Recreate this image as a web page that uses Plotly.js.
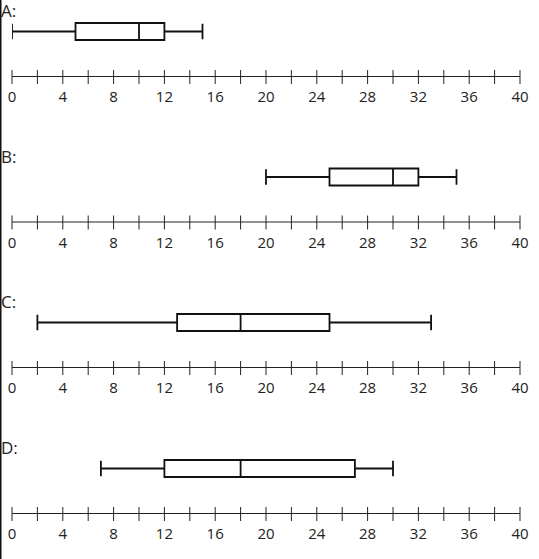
<!DOCTYPE html>
<html>
<head>
<meta charset="utf-8">
<script src="https://cdn.plot.ly/plotly-3.0.1.min.js"></script>
<style>html,body{margin:0;padding:0;background:#fff;}#chart{width:539px;height:559px;}</style>
</head>
<body>
<div id="chart"></div>
<script>
// Data
const plotNames = ["A:", "B:", "C:", "D:"];
const minVals    = [0, 20, 2, 7];
const q1Vals     = [5, 25, 13, 12];
const medianVals = [10, 30, 18, 18];
const q3Vals     = [12, 32, 25, 27];
const maxVals    = [15, 35, 33, 30];
const tickMarks  = [0,2,4,6,8,10,12,14,16,18,20,22,24,26,28,30,32,34,36,38,40];
const tickLabels = [0,4,8,12,16,20,24,28,32,36,40];

const W = 539, H = 559;
const ML = 12, MR = 19;
const axisPix = [77, 222.5, 368, 514]; // pixel row of each number line
const panelH = 70;
const boxPos = 45.5, boxW = 17;

const traces = [];
const layout = {
  width: W, height: H,
  margin: {l: ML, r: MR, t: 0, b: 0},
  paper_bgcolor: '#fff', plot_bgcolor: 'rgba(0,0,0,0)',
  showlegend: false,
  font: {family: '"Open Sans", "Noto Sans", sans-serif', color: '#222'},
  annotations: [],
  shapes: [{type: 'line', xref: 'paper', yref: 'paper',
            x0: -ML / (W - ML - MR), x1: -ML / (W - ML - MR), y0: 0, y1: 1,
            line: {color: '#111', width: 3}}]
};

plotNames.forEach((name, i) => {
  const sfx = i === 0 ? '' : String(i + 1);
  const xa = 'x' + sfx, ya = 'y' + sfx;
  // number line
  traces.push({
    type: 'scatter', mode: 'lines+markers', xaxis: xa, yaxis: ya,
    x: tickMarks, y: tickMarks.map(() => 0),
    line: {color: '#222', width: 2},
    marker: {symbol: 'line-ns-open', size: 10, line: {color: '#444', width: 1}},
    cliponaxis: false, hoverinfo: 'skip'
  });
  // box
  traces.push({
    type: 'box', orientation: 'h', xaxis: xa, yaxis: ya,
    y: [boxPos], q1: [q1Vals[i]], median: [medianVals[i]], q3: [q3Vals[i]],
    lowerfence: [minVals[i]], upperfence: [maxVals[i]],
    width: boxW, whiskerwidth: 0.9, boxpoints: false,
    fillcolor: '#fff', line: {color: '#111', width: 1.8}
  });
  const bottom = 1 - axisPix[i] / H;
  const top = 1 - (axisPix[i] - panelH) / H;
  layout['xaxis' + sfx] = {
    anchor: ya, domain: [0, 1], range: [0, 40],
    tickvals: tickLabels, ticks: '', showline: false, showgrid: false, zeroline: false,
    ticklabelstandoff: 9,
    tickfont: {size: 15, color: '#222'}, fixedrange: true
  };
  layout['yaxis' + sfx] = {
    anchor: xa, domain: [bottom, top], range: [0, panelH], visible: false, fixedrange: true
  };
  layout.annotations.push({
    text: name, xref: 'paper', yref: 'paper', x: -ML / (W - ML - MR), xanchor: 'left',
    y: 1 - (axisPix[i] - 66.5) / H, yanchor: 'middle', showarrow: false,
    xshift: -1, font: {size: 17, color: '#222'}
  });
});

Plotly.newPlot('chart', traces, layout, {displayModeBar: false, staticPlot: true});
</script>
</body>
</html>
